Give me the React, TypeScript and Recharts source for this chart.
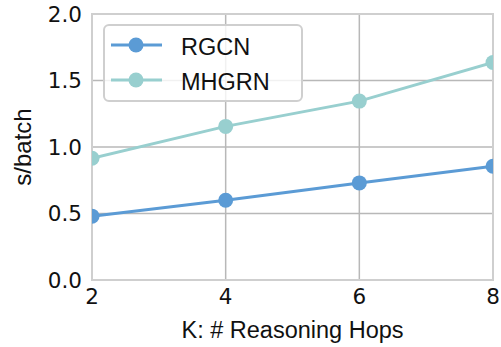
import { CartesianGrid, Line, LineChart, ReferenceArea, XAxis, YAxis } from "recharts";

const hops = [2, 4, 6, 8];
const rgcn = [0.48, 0.6, 0.73, 0.855];
const mhgrn = [0.915, 1.155, 1.345, 1.635];
const xTicks = [2, 4, 6, 8];
const yTicks = [0, 0.5, 1.0, 1.5, 2.0];

const RGCN_COLOR = "#5b9bd5";
const MHGRN_COLOR = "#98cfcf";
const GRID = "#b8b8b8";
const BORDER = "#cfcfcf";
const SANS = "'Liberation Sans', Arial, sans-serif";
const TICK_FONT = "'DejaVu Sans', sans-serif";

const data = hops.map((k, i) => ({ k, rgcn: rgcn[i], mhgrn: mhgrn[i] }));

// matplotlib-style legend: framed, rounded, line + marker per series
function LegendBox() {
  const items = [
    { name: "RGCN", color: RGCN_COLOR },
    { name: "MHGRN", color: MHGRN_COLOR },
  ];
  return (
    <svg width={201} height={79} style={{ display: "block" }}>
      <rect x={1} y={1} width={198} height={76} rx={5} fill="rgba(255,255,255,0.8)" stroke={BORDER} strokeWidth={2} />
      {items.map((it, i) => {
        const cy = 21 + i * 35;
        return (
          <g key={it.name}>
            <line x1={8} x2={59} y1={cy} y2={cy} stroke={it.color} strokeWidth={3} />
            <circle cx={33} cy={cy} r={7.5} fill={it.color} />
            <text x={78} y={cy + 1.5} dy="0.36em" fontFamily={SANS} fontSize={23.5} fill="#111">
              {it.name}
            </text>
          </g>
        );
      })}
    </svg>
  );
}

export default function App() {
  return (
    <div style={{ position: "absolute", left: 0, top: 0, width: 501, height: 347, background: "#fff" }}>
      <LineChart width={501} height={347} data={data} margin={{ top: 14, right: 8, bottom: 0, left: 0 }}>
        <CartesianGrid stroke={GRID} strokeWidth={1.5} vertical horizontal />
        <XAxis
          dataKey="k"
          type="number"
          domain={[2, 8]}
          ticks={xTicks}
          allowDataOverflow
          axisLine={false}
          tickLine={false}
          tickSize={0}
          tickMargin={9}
          height={67}
          tick={{ fill: "#111", fontSize: 21.5, fontFamily: TICK_FONT }}
          label={{
            value: "K: # Reasoning Hops",
            position: "insideBottom",
            offset: 9,
            fill: "#111",
            fontSize: 23.5,
            fontFamily: SANS,
          }}
        />
        <YAxis
          type="number"
          domain={[0, 2]}
          ticks={yTicks}
          allowDataOverflow
          axisLine={false}
          tickLine={false}
          tickSize={0}
          tickMargin={10}
          width={92}
          tickFormatter={(v: number) => v.toFixed(1)}
          tick={{ fill: "#111", fontSize: 21.5, fontFamily: TICK_FONT }}
          label={{
            value: "s/batch",
            angle: -90,
            position: "insideLeft",
            offset: 22,
            style: { textAnchor: "middle" },
            fill: "#111",
            fontSize: 24,
            fontFamily: SANS,
          }}
        />
        <ReferenceArea x1={2} x2={8} y1={0} y2={2} fill="none" stroke={BORDER} strokeWidth={2} ifOverflow="visible" />
        <Line
          dataKey="rgcn"
          name="RGCN"
          stroke={RGCN_COLOR}
          strokeWidth={3}
          dot={{ r: 7.5, fill: RGCN_COLOR, stroke: "none" }}
          activeDot={false}
          isAnimationActive={false}
        />
        <Line
          dataKey="mhgrn"
          name="MHGRN"
          stroke={MHGRN_COLOR}
          strokeWidth={3}
          dot={{ r: 7.5, fill: MHGRN_COLOR, stroke: "none" }}
          activeDot={false}
          isAnimationActive={false}
        />
      </LineChart>
      <div style={{ position: "absolute", left: 103, top: 24 }}>
        <LegendBox />
      </div>
    </div>
  );
}
